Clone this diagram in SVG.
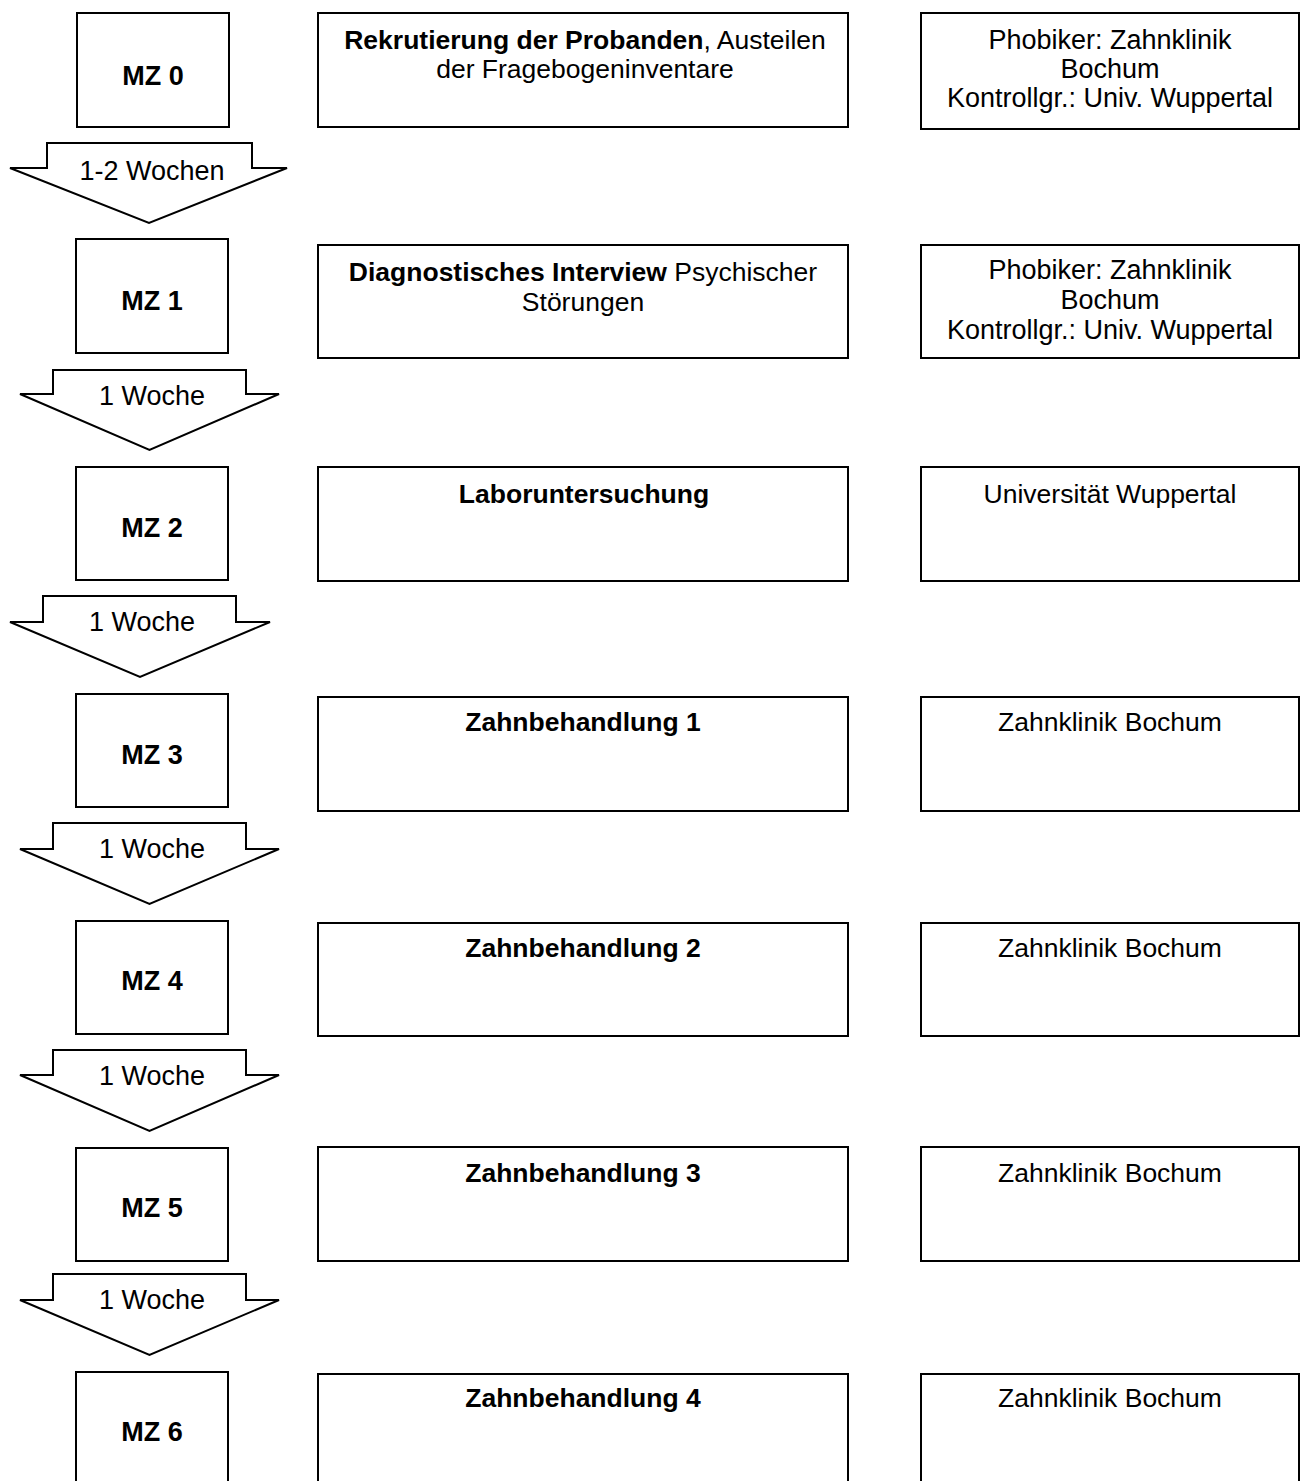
<svg xmlns="http://www.w3.org/2000/svg" width="1300" height="1481" viewBox="0 0 1300 1481">
  <style>
    .box { fill: #ffffff; stroke: #000000; stroke-width: 2; }
    .arrow { fill: #ffffff; stroke: #000000; stroke-width: 2; stroke-linejoin: miter; }
    text { font-family: "Liberation Sans", Arial, sans-serif; font-size: 27px; fill: #000000; text-anchor: middle; }
    .t { font-size: 26.5px; }
    .b { font-weight: bold; }
  </style>
  <rect x="0" y="0" width="1300" height="1481" fill="#ffffff"/>

  <!-- block arrows between time points -->
  <g id="connectors">
    <polygon class="arrow" points="47,143 252,143 252,168 287,168 149,223 10,168 47,168"/>
    <text x="152" y="180">1-2 Wochen</text>
    <polygon class="arrow" points="53,370 246,370 246,394 279,394 149.5,450 20,394 53,394"/>
    <text x="152" y="405">1 Woche</text>
    <polygon class="arrow" points="43,596 236,596 236,622 270,622 140,677 10,622 43,622"/>
    <text x="142" y="631">1 Woche</text>
    <polygon class="arrow" points="53,823 246,823 246,849 279,849 149.5,904 20,849 53,849"/>
    <text x="152" y="858">1 Woche</text>
    <polygon class="arrow" points="53,1050 246,1050 246,1075 279,1075 149.5,1131 20,1075 53,1075"/>
    <text x="152" y="1085">1 Woche</text>
    <polygon class="arrow" points="53,1274 246,1274 246,1300 279,1300 149.5,1355 20,1300 53,1300"/>
    <text x="152" y="1309">1 Woche</text>
  </g>

  <!-- row 0 -->
  <g id="mz0">
    <rect class="box" x="77" y="13" width="152" height="114"/>
    <text class="b" x="153" y="85">MZ 0</text>
  </g>
  <g id="task0">
    <rect class="box" x="318" y="13" width="530" height="114"/>
    <text class="t" x="585" y="49"><tspan class="b">Rekrutierung der Probanden</tspan>, Austeilen</text>
    <text class="t" x="585" y="78">der Fragebogeninventare</text>
  </g>
  <g id="site0">
    <rect class="box" x="921" y="13" width="378" height="116"/>
    <text x="1110" y="49">Phobiker: Zahnklinik</text>
    <text x="1110" y="78">Bochum</text>
    <text x="1110" y="107">Kontrollgr.: Univ. Wuppertal</text>
  </g>

  <!-- row 1 -->
  <g id="mz1">
    <rect class="box" x="76" y="239" width="152" height="114"/>
    <text class="b" x="152" y="310">MZ 1</text>
  </g>
  <g id="task1">
    <rect class="box" x="318" y="245" width="530" height="113"/>
    <text class="t" x="583" y="281"><tspan class="b">Diagnostisches Interview</tspan> Psychischer</text>
    <text class="t" x="583" y="311">Störungen</text>
  </g>
  <g id="site1">
    <rect class="box" x="921" y="245" width="378" height="113"/>
    <text x="1110" y="279">Phobiker: Zahnklinik</text>
    <text x="1110" y="309">Bochum</text>
    <text x="1110" y="339">Kontrollgr.: Univ. Wuppertal</text>
  </g>

  <!-- row 2 -->
  <g id="mz2">
    <rect class="box" x="76" y="467" width="152" height="113"/>
    <text class="b" x="152" y="537">MZ 2</text>
  </g>
  <g id="task2">
    <rect class="box" x="318" y="467" width="530" height="114"/>
    <text class="t b" x="584" y="503">Laboruntersuchung</text>
  </g>
  <g id="site2">
    <rect class="box" x="921" y="467" width="378" height="114"/>
    <text class="t" x="1110" y="503">Universität Wuppertal</text>
  </g>

  <!-- row 3 -->
  <g id="mz3">
    <rect class="box" x="76" y="694" width="152" height="113"/>
    <text class="b" x="152" y="764">MZ 3</text>
  </g>
  <g id="task3">
    <rect class="box" x="318" y="697" width="530" height="114"/>
    <text class="t b" x="583" y="731">Zahnbehandlung 1</text>
  </g>
  <g id="site3">
    <rect class="box" x="921" y="697" width="378" height="114"/>
    <text class="t" x="1110" y="731">Zahnklinik Bochum</text>
  </g>

  <!-- row 4 -->
  <g id="mz4">
    <rect class="box" x="76" y="921" width="152" height="113"/>
    <text class="b" x="152" y="990">MZ 4</text>
  </g>
  <g id="task4">
    <rect class="box" x="318" y="923" width="530" height="113"/>
    <text class="t b" x="583" y="957">Zahnbehandlung 2</text>
  </g>
  <g id="site4">
    <rect class="box" x="921" y="923" width="378" height="113"/>
    <text class="t" x="1110" y="957">Zahnklinik Bochum</text>
  </g>

  <!-- row 5 -->
  <g id="mz5">
    <rect class="box" x="76" y="1148" width="152" height="113"/>
    <text class="b" x="152" y="1217">MZ 5</text>
  </g>
  <g id="task5">
    <rect class="box" x="318" y="1147" width="530" height="114"/>
    <text class="t b" x="583" y="1182">Zahnbehandlung 3</text>
  </g>
  <g id="site5">
    <rect class="box" x="921" y="1147" width="378" height="114"/>
    <text class="t" x="1110" y="1182">Zahnklinik Bochum</text>
  </g>

  <!-- row 6 (runs past the lower edge) -->
  <g id="mz6">
    <rect class="box" x="76" y="1372" width="152" height="130"/>
    <text class="b" x="152" y="1441">MZ 6</text>
  </g>
  <g id="task6">
    <rect class="box" x="318" y="1374" width="530" height="130"/>
    <text class="t b" x="583" y="1407">Zahnbehandlung 4</text>
  </g>
  <g id="site6">
    <rect class="box" x="921" y="1374" width="378" height="130"/>
    <text class="t" x="1110" y="1407">Zahnklinik Bochum</text>
  </g>
</svg>
